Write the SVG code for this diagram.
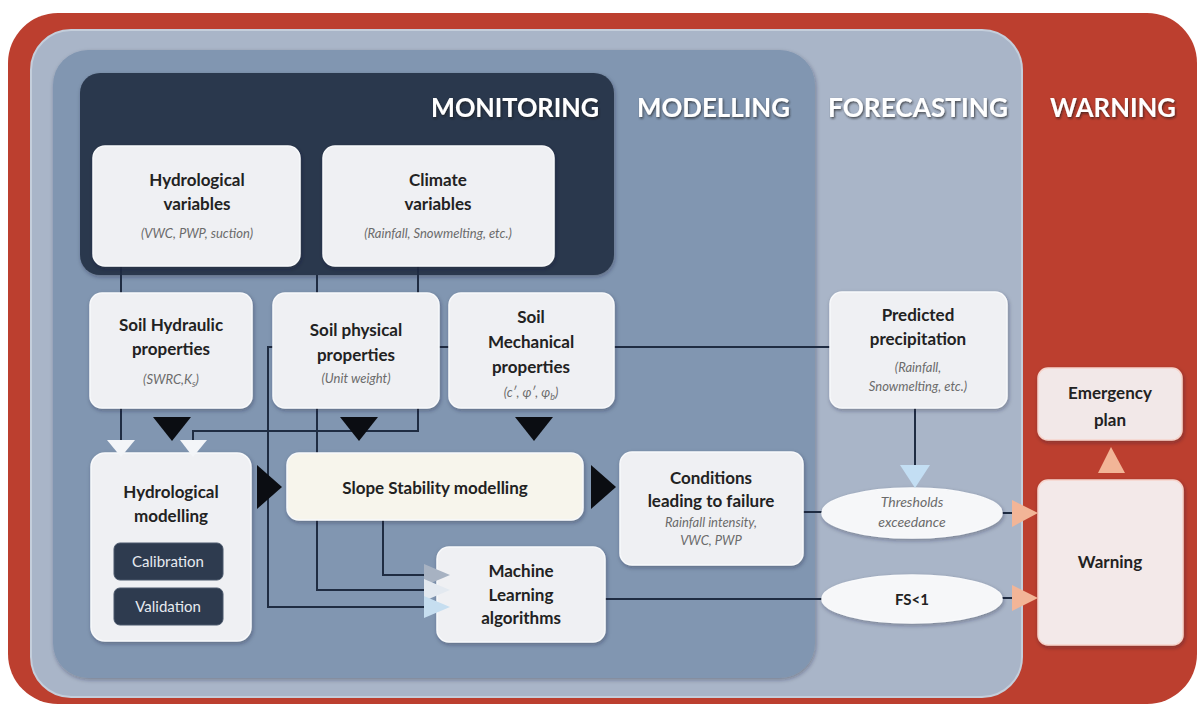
<svg xmlns="http://www.w3.org/2000/svg" width="1197" height="711" viewBox="0 0 1197 711">
<defs>
<filter id="sh" x="-10%" y="-10%" width="130%" height="130%"><feDropShadow dx="1" dy="2" stdDeviation="2" flood-color="#1b2433" flood-opacity="0.35"/></filter>
<filter id="tsh" x="-5%" y="-20%" width="115%" height="160%"><feDropShadow dx="1" dy="1.5" stdDeviation="1" flood-color="#1a1a1a" flood-opacity="0.7"/></filter>
<style>
.box{fill:#eff0f3;stroke:#f8f9fb;stroke-width:1.5;filter:url(#sh)}
.t{font-family:Lato,"Open Sans",sans-serif;font-weight:bold;font-size:17px;fill:#222;text-anchor:middle}
.s{font-family:Lato,"Open Sans",sans-serif;font-style:italic;font-size:13px;fill:#6b6b6b;text-anchor:middle}
.h{font-family:Lato,"Open Sans",sans-serif;font-weight:bold;font-size:27px;fill:#ffffff;filter:url(#tsh)}
.ln{fill:none;stroke:#1f2c42;stroke-width:2}
.bk{fill:#0b0d12}
.wh{fill:#f3f5f8}
.or{fill:#f2b597}
.dk{fill:#2e3b4f;stroke:#4a586c;stroke-width:1}
.dt{font-family:Lato,"Open Sans",sans-serif;font-size:15px;fill:#e6eaf0;text-anchor:middle}
</style>
</defs>

<!-- panels -->
<g id="panels">
<rect x="8" y="13" width="1189" height="691" rx="50" fill="#bc3f2f"/>
<rect x="31" y="30" width="991" height="667" rx="40" fill="#a9b5c8" stroke="#c4cedb" stroke-width="2"/>
<rect x="53" y="50" width="762" height="628" rx="35" fill="#8196b1" filter="url(#sh)"/>
<rect x="80" y="73" width="534" height="202" rx="20" fill="#2b394d" filter="url(#sh)"/>
<text class="h" x="431" y="117" textLength="168" lengthAdjust="spacingAndGlyphs">MONITORING</text>
<text class="h" x="637" y="117" textLength="153" lengthAdjust="spacingAndGlyphs">MODELLING</text>
<text class="h" x="828" y="117" textLength="180" lengthAdjust="spacingAndGlyphs">FORECASTING</text>
<text class="h" x="1050" y="117" textLength="126" lengthAdjust="spacingAndGlyphs">WARNING</text>
</g>

<!-- connectors -->
<g id="connectors">
<path class="ln" d="M121,266 V444"/>
<path class="ln" d="M418,266 V431 H193 V444"/>
<path class="ln" d="M317,275 V590 H430"/>
<path class="ln" d="M830,347 H268 V607 H430"/>
<path class="ln" d="M383,520 V575 H430"/>
<path class="ln" d="M915,408 V470"/>
<path class="ln" d="M803,512 H822"/>
<path class="ln" d="M605,599 H822"/>
<path class="ln" d="M1002,513 H1014"/>
<path class="ln" d="M1002,598 H1014"/>
</g>

<!-- nodes -->
<g id="hydrological-variables">
<rect class="box" x="93" y="146" width="207" height="120" rx="12"/>
<text class="t" x="197" y="186">Hydrological</text>
<text class="t" x="197" y="210">variables</text>
<text class="s" x="197" y="238">(VWC, PWP, suction)</text>
</g>
<g id="climate-variables">
<rect class="box" x="323" y="146" width="231" height="120" rx="12"/>
<text class="t" x="438" y="186">Climate</text>
<text class="t" x="438" y="210">variables</text>
<text class="s" x="438" y="238">(Rainfall, Snowmelting, etc.)</text>
</g>
<g id="soil-hydraulic">
<rect class="box" x="90" y="293" width="162" height="115" rx="12"/>
<text class="t" x="171" y="331">Soil Hydraulic</text>
<text class="t" x="171" y="355">properties</text>
<text class="s" x="171" y="384">(SWRC,K<tspan font-size="9" dy="3">s</tspan><tspan dy="-3">)</tspan></text>
</g>
<g id="soil-physical">
<rect class="box" x="273" y="293" width="166" height="115" rx="12"/>
<text class="t" x="356" y="336">Soil physical</text>
<text class="t" x="356" y="361">properties</text>
<text class="s" x="356" y="383">(Unit weight)</text>
</g>
<g id="soil-mechanical">
<rect class="box" x="449" y="293" width="165" height="115" rx="12"/>
<text class="t" x="531" y="323">Soil</text>
<text class="t" x="531" y="348">Mechanical</text>
<text class="t" x="531" y="373">properties</text>
<text class="s" x="531" y="397">(c′, φ′, φ<tspan font-size="9" dy="3">b</tspan><tspan dy="-3">)</tspan></text>
</g>
<g id="hydrological-modelling">
<rect class="box" x="91" y="453" width="160" height="188" rx="14"/>
<text class="t" x="171" y="498">Hydrological</text>
<text class="t" x="171" y="522">modelling</text>
<rect class="dk" x="114" y="543" width="109" height="37" rx="6"/>
<text class="dt" x="168" y="567">Calibration</text>
<rect class="dk" x="114" y="588" width="109" height="37" rx="6"/>
<text class="dt" x="168" y="612">Validation</text>
</g>
<g id="slope-stability">
<rect class="box" x="287" y="453" width="296" height="67" rx="12" style="fill:#f7f5ec"/>
<text class="t" x="435" y="494">Slope Stability modelling</text>
</g>
<g id="machine-learning">
<rect class="box" x="437" y="547" width="168" height="95" rx="12"/>
<text class="t" x="521" y="577">Machine</text>
<text class="t" x="521" y="601">Learning</text>
<text class="t" x="521" y="624">algorithms</text>
</g>
<g id="conditions">
<rect class="box" x="620" y="452" width="183" height="113" rx="12"/>
<text class="t" x="711" y="484">Conditions</text>
<text class="t" x="711" y="507">leading to failure</text>
<text class="s" x="711" y="527">Rainfall intensity,</text>
<text class="s" x="711" y="545">VWC, PWP</text>
</g>
<g id="predicted-precipitation">
<rect class="box" x="830" y="292" width="177" height="116" rx="12"/>
<text class="t" x="918" y="321">Predicted</text>
<text class="t" x="918" y="345">precipitation</text>
<text class="s" x="918" y="372">(Rainfall,</text>
<text class="s" x="918" y="391">Snowmelting, etc.)</text>
</g>
<g id="thresholds">
<ellipse class="box" cx="912" cy="513" rx="90" ry="25" style="fill:#f6f7f9"/>
<text class="s" x="912" y="507" style="font-size:14px">Thresholds</text>
<text class="s" x="912" y="527" style="font-size:14px">exceedance</text>
</g>
<g id="fs-less-1">
<ellipse class="box" cx="912" cy="599" rx="90" ry="24" style="fill:#f6f7f9"/>
<text class="t" x="912" y="605" style="font-size:15px">FS&lt;1</text>
</g>
<g id="emergency-plan">
<rect class="box" x="1038" y="368" width="144" height="72" rx="10" style="fill:#f2e8e8;stroke:#f6d4cc"/>
<text class="t" x="1110" y="399">Emergency</text>
<text class="t" x="1110" y="426">plan</text>
</g>
<g id="warning">
<rect class="box" x="1038" y="480" width="145" height="165" rx="10" style="fill:#f3e9e9;stroke:#f6d4cc"/>
<text class="t" x="1110" y="568">Warning</text>
</g>

<!-- arrowheads -->
<g id="arrowheads">
<polygon class="wh" points="107,440 135,440 121,457"/>
<polygon class="wh" points="180,440 207,440 193,457"/>
<polygon class="bk" points="153,417 191,417 172,441"/>
<polygon class="bk" points="340,417 378,417 359,441"/>
<polygon class="bk" points="515,417 553,417 534,441"/>
<polygon class="bk" points="257,465 257,509 282,487"/>
<polygon class="bk" points="591,465 591,509 616,487"/>
<polygon fill="#a7b2c2" points="424,564 424,586 450,575"/>
<polygon fill="#e3e9f0" points="424,579 424,601 450,590"/>
<polygon fill="#c6def0" points="424,596 424,618 450,607"/>
<polygon fill="#c3def3" points="900,465 930,465 915,488"/>
<polygon class="or" points="1012,500 1012,527 1038,513"/>
<polygon class="or" points="1012,585 1012,611 1038,598"/>
<polygon class="or" points="1098,473 1125,473 1111,447"/>
</g>
</svg>
